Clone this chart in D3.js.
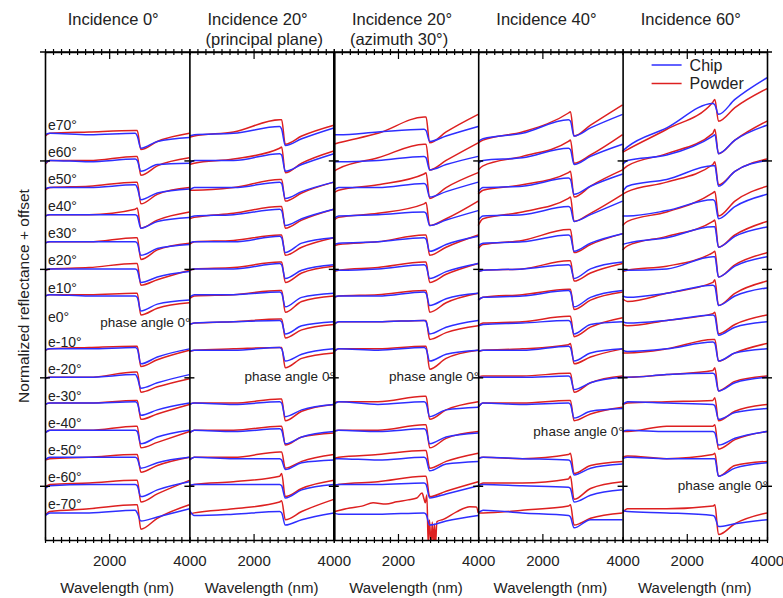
<!DOCTYPE html>
<html>
<head>
<meta charset="utf-8">
<script src="https://cdn.jsdelivr.net/npm/d3@7"></script>
<style>
  body { margin: 0; background: #fff; }
  svg { font-family: "Liberation Sans", Arial, sans-serif; }
</style>
</head>
<body>
<div id="main"></div>
<script>
const wavelengths = [400, 520, 1500, 2650, 2700, 2790, 3200, 4000];

const emissionLabels = ["e70°", "e60°", "e50°", "e40°", "e30°", "e20°", "e10°", "e0°",
                        "e-10°", "e-20°", "e-30°", "e-40°", "e-50°", "e-60°", "e-70°"];
const rowOffsets = [150, 140, 130, 120, 110, 100, 90, 80, 70, 60, 50, 40, 30, 20, 10];

const panelTitles = [
  ["Incidence 0°"],
  ["Incidence 20°", "(principal plane)"],
  ["Incidence 20°", "(azimuth 30°)"],
  ["Incidence 40°"],
  ["Incidence 60°"]
];
// row (index into emissionLabels) that holds the "phase angle 0°" note instead of a spectrum
const phaseZeroRows = [7, 9, 9, 11, 13];

const xTickLabels = [2000, 4000];
const xMajorTicks = [2000];
const yTickValues = [20, 60, 100, 140];

// relative reflectance per row, e70 ... e-70 (null = no spectrum)
const chipInc0 = [
  [-0.5, 0, -0.5, 0, -1, -5.5, -3, -1.5],
  [-1, 0, -0.5, 0.5, 0, -4, -1.5, -1],
  [-0.5, 0, 0, 1, 0, -4.5, -2, -0.5],
  [-0.5, 0, 0, 0, -0.5, -5, -2.5, -1],
  [-0.5, 0, 0, 0, -0.5, -5, -2.5, -1],
  [-0.5, 0, 0, 0, -0.5, -5, -3, -1],
  [0, 0.5, 0, 0, -0.5, -5.5, -3, -1.5],
  null,
  [0, 0.5, 0.5, 1, 0.5, -5, -2.5, 0.5],
  [-0.5, 0, 0, 1, 0, -4, -2, 1],
  [0, 0.5, 0.5, 1, 0.5, -4, -2, 0.5],
  [-0.5, 0.5, 0.5, 0.5, 0, -4.5, -2, 0.5],
  [-0.5, 0.5, 0.5, 0.5, 0, -3.5, -1.5, 0.5],
  [-1, 0, 0.5, 0.5, 0, -4, -1.5, 1.5],
  [-1, 0, 0, 1, 0, -3, -1.5, 1.5]
];
const powderInc0 = [
  [-1, 0, 0.5, 1, 1, -6, -3, 0],
  [-1.5, 0, 0, 1.5, 1.5, -5.5, -2, 1],
  [-1, 0, 0.5, 2, 2, -6, -2.5, 0],
  [-0.5, 0, 0, 2, 2.5, -5, -2, 1],
  [-0.5, 0, 0, 1.5, 1.5, -6.5, -3, -0.5],
  [-0.5, 0, 0.5, 2, 2, -6, -4, -0.5],
  [0, 0.5, 0.5, 1, 1, -7, -4.5, -2.5],
  null,
  [0, 0.5, 1, 1.5, 1.5, -6, -3.5, 0],
  [-0.5, 0, 0, 2, 2, -5.5, -3.5, -0.5],
  [0, 0.5, 0.5, 1.5, 1.5, -5.5, -3.5, 0],
  [-0.5, 0.5, 0.5, 2, 2, -6, -4, 0],
  [-0.5, 0, 0.5, 1.5, 1.5, -5, -2.5, 0.5],
  [-0.5, 0.5, 1, 2, 2, -6, -3, 2],
  [-1, 0.5, 1.5, 3, 3, -6, -2, 3]
];

const chipInc20pp = [
  [-1, -0.5, 0, 2.5, 1.5, -4.5, -2, 2],
  [-1, 0, 0, 2.5, 2, -4, -1.5, 2.5],
  [-1, 0, 0, 2, 1.5, -4, -1.5, 2],
  [-1, -0.5, 0, 2, 1.5, -4, -1.5, 2],
  [-0.5, 0, 0, 2, 1.5, -4, -0.5, 1.5],
  [-0.5, 0, 0, 2, 1.5, -3.5, -0.5, 1.5],
  [-0.5, 0.5, 0.5, 1.5, 1, -4, -0.5, 1],
  [-0.5, 0, 0.5, 1, 0.5, -4, -1, 0.5],
  [-0.5, 0, 0, 1, 0.5, -4, -1.5, 0.5],
  null,
  [0, 0.5, 0, 1, 0.5, -4.5, -2, 0],
  [-0.5, 0.5, 0, 1, 0.5, -4.5, -2, 0],
  [-0.5, 0.5, 0, 0, -0.5, -4, -1.5, -0.5],
  [0, 0.5, 0.5, 0.5, 0, -4.5, -1.5, 0.5],
  [1, -1, -0.5, 0.5, 0, -4.5, -2.5, 0]
];
const powderInc20pp = [
  [-1.5, -1, 0.5, 5, 5, -4, -1, 3],
  [-1.5, -1, 0.5, 4.5, 5, -4.5, -1, 3.5],
  [-1, -1, 0, 3, 3, -5, -2, 2],
  [-1.5, -1, 0.5, 3, 3, -5, -2, 2],
  [-1, 0, 0.5, 2.5, 2.5, -5, -2, 1.5],
  [-0.5, 0, 0.5, 2.5, 2.5, -5, -1.5, 1],
  [-1, 0, 0.5, 2, 2, -6, -2, 0],
  [-0.5, 0, 0.5, 1.5, 1.5, -5.5, -2.5, -0.5],
  [-0.5, 0, 0.5, 1, 1, -6.5, -3, -1],
  null,
  [0, 0.5, 0.5, 2, 2, -6, -2.5, 0],
  [-0.5, 0.5, 0.5, 2, 2, -5, -2, -0.5],
  [-0.5, 0.5, 0.5, 2.5, 2.5, -3.5, -1, 1.5],
  [0, 0.5, 1.5, 3.5, 4.5, -4, -1, 2],
  [-0.5, 0, 1.5, 4, 4.5, -2.5, 0.5, 5]
];

const chipInc20az = [
  [-0.5, -0.5, 0.5, 1.5, 1, -3, -1, 2.5],
  [-0.5, -0.5, 0, 1.5, 1, -3.5, -1.5, 1.5],
  [-1, 0, 0, 1.5, 1, -3.5, -1.5, 2],
  [-1.5, -0.5, 0, 1, 0.5, -4, -2, 1.5],
  [-1, -0.5, 0, 1.5, 1, -3.5, -1, 2],
  [-0.5, -0.5, 0, 1.5, 1, -3.5, -1, 2],
  [-0.5, 0, 0, 1.5, 1, -3.5, -1, 1],
  [-0.5, 0.5, 0.5, 1, 0.5, -4, -1.5, 1],
  [-0.5, 0.5, 0, 1, 0.5, -4, -1.5, 0],
  null,
  [0, 1, 0, 1, 0.5, -4.5, -2, -1],
  [0, 0.5, 0, 1, 0.5, -4.5, -2, -0.5],
  [0, 0, -0.5, 0.5, 0, -4.5, -2, -1],
  [0, 0.5, 0.5, 1, 0.5, -4.5, -3, 0],
  [0, -0.5, -0.5, 0, -0.5, -4.5, -3, -1]
];
const powderInc20az = [
  [-4, -3.5, 0, 6, 6, -3.5, 0.5, 7],
  [-4, -3, 1, 6, 6, -3.5, 0, 6.5],
  [-2, -1, 1, 5, 5.5, -4, 0, 5.5],
  [-2, -1, 0.5, 4, 4.5, -4, -1.5, 5],
  [-1.5, -1, 0, 2.5, 2.5, -5, -2, 2.5],
  [-1, -0.5, 0.5, 2.5, 2.5, -5, -2, 2],
  [-0.5, 0, 0.5, 2, 2, -6, -2.5, 1],
  [-0.5, 0.5, 0.5, 1, 1, -6, -3.5, -1],
  [-0.5, 0.5, 0.5, 1.5, 1.5, -7, -3, 0],
  null,
  [0.5, 1, 1, 3, 3, -5.5, -2, 1],
  [0, 0.5, 0.5, 2.5, 2.5, -6, -2.5, 0],
  [0, 0.5, 1.5, 3, 3, -3.5, -1, 2],
  [0, 0.5, 1.5, 3.5, 3.5, -4, -2, 1.5],
  null // noisy, read on its own grid below
];
// e-70 powder at incidence 20° (azimuth 30°): noisy band near 2.8 µm
const noisyWavelengths = [400, 800, 1100, 1380, 1700, 1970, 2250, 2470, 2600, 2650, 2680, 2720, 2755,
                          2785, 2825, 2855, 2885, 2910, 2935, 2970, 3130, 3460, 3790, 3955, 4000];
const noisyPowder = [0.4, 1.8, 2.5, 3.7, 3.3, 4.1, 4.8, 5.5, 7.3, 5.1, 3.7, 6.6, -12,
                     -2.6, -12, -3.4, -12, -4.1, -12, -3.2, -2.4, 0.4, 2.3, 2.2, 0];

const chipInc40 = [
  [-3, -2, 0, 5, 4.5, -1, 2, 7],
  [-1, 0, 1, 4.5, 4, -1.5, 1.5, 6],
  [-1.5, 0, 0.5, 3.5, 3, -2.5, 0.5, 5],
  [-2, -0.5, 0, 3, 2.5, -2.5, 0, 5],
  [-1.5, -0.5, 0, 2.5, 2, -3.5, -0.5, 3],
  [-1, -0.5, 0, 1.5, 1, -3.5, 0, 2.5],
  [-1.5, -0.5, 0, 2, 1.5, -4, -0.5, 2],
  [-1, -0.5, 0, 1, 0.5, -4, -0.5, 0.5],
  [-0.5, 0, 0, 1.5, 1, -4, -1, 0.5],
  [0, 0, 0, 0.5, 0, -4.5, -2, 0],
  [-1, 0.5, 0, 0.5, 0, -5, -2.5, -1.5],
  null,
  [0, 0.5, 0, -0.5, -1, -6, -3.5, -2],
  [0, 0.5, 0, -0.5, -1, -6, -3.5, -1.5],
  [0, 1, 0, -1, -1.5, -5.5, -2.5, -2.5]
];
const powderInc40 = [
  [-3.5, -2.5, 0.5, 7.5, 8, -1, 3, 10.5],
  [-3.5, -2, 1.5, 7, 7.5, -1, 2, 9.5],
  [-2.5, -1, 1, 5.5, 6, -3.5, 0.5, 6.5],
  [-4, -1.5, 1, 6, 6.5, -2.5, 0.5, 7.5],
  [-2.5, -1, 0.5, 4.5, 4.5, -4, -1, 3],
  [-1, -0.5, 0, 3, 3, -4.5, -1.5, 2],
  [-1.5, -0.5, 0.5, 2.5, 2.5, -5, -1.5, 1.5],
  [-1, 0, 0.5, 2.5, 2.5, -5, -1.5, 2],
  [-0.5, 0, 0.5, 2, 2.5, -5, -2.5, 0.5],
  [0, 0.5, 0.5, 1.5, 1.5, -5.5, -2, 0.5],
  [-1, 0.5, 0.5, 1.5, 1.5, -6, -3.5, -1],
  null,
  [0, 0.5, 0, 1.5, 2, -5.5, -2.5, -1],
  [0, 1, 1, 2.5, 3.5, -5, -1, 1.5],
  [0, 0, 1, 2.5, 3, -4.5, -2, 0]
];

const chipInc60 = [
  [-6.5, -5, 2, 11, 10.5, 7, 12.5, 20.5],
  [-1.5, 0, 2, 9, 9.5, 2.5, 7.5, 13],
  [-1.5, 0.5, 3, 8, 8, 0.5, 6, 10],
  [-0.5, -0.5, 1.5, 5.5, 5, -1.5, 3, 7.5],
  [-1, -0.5, 1.5, 5.5, 5.5, -2, 2, 5.5],
  [-0.5, -0.5, 0, 4.5, 4.5, -3, 1, 4.5],
  [0, -0.5, 1, 4, 3.5, -3.5, 0, 3],
  [0.5, 0, 1, 3, 2.5, -4.5, -1.5, 0.5],
  [0, -0.5, 0.5, 3, 2.5, -4, -1, 0.5],
  [0, 0, 1, 1.5, 1, -5, -2, 0],
  [0, 1, 0.5, 0, -0.5, -5.5, -3, -1.5],
  [0, 0.5, 0, 0, -0.5, -5, -2.5, 0],
  [0, 0.5, 0, 0, 0, -6.5, -3.5, -1.5],
  null,
  [1, 0.5, 0, -1, -1.5, -5, -4, -2.5]
];
const powderInc60 = [
  [-7, -6, 1.5, 11.5, 12.5, 4.5, 9.5, 16.5],
  [-3.5, -2, 2.5, 10, 11.5, 2.5, 7.5, 14.5],
  [-2.5, -1.5, 2, 8.5, 9.5, 1, 6, 10.5],
  [-4, -2.5, 1, 8, 8.5, -0.5, 5, 10.5],
  [-3, -1.5, 2, 7.5, 8, -2, 2.5, 7.5],
  [-1, -0.5, 1, 6, 6.5, -3, 1.5, 6],
  [-1, -2, 1, 5, 6, -3.5, 1, 5.5],
  [-0.5, -1, 1, 3.5, 4, -4, -0.5, 3],
  [-1, -1, 0.5, 4, 4, -4, -1, 2.5],
  [0, 0, 1, 2.5, 3.5, -5, -1.5, 0.5],
  [0, 0.5, 1, 1.5, 2.5, -6, -2.5, 0],
  [0, 0, 2, 2, 2.5, -6.5, -3, 0],
  [0.5, 1, 0, 1.5, 2, -6.5, -2.5, -1],
  null,
  [0, 1.5, 1.5, 2.5, 3, -8, -4, 0]
];

const chipSeries = [chipInc0, chipInc20pp, chipInc20az, chipInc40, chipInc60];
const powderSeries = [powderInc0, powderInc20pp, powderInc20az, powderInc40, powderInc60];

const chipColor = "#2e2eff";
const powderColor = "#dd2020";

const width = 783;
const height = 598;
const margin = { top: 52, right: 16, bottom: 58, left: 45 };
const innerWidth = width - margin.left - margin.right;
const innerHeight = height - margin.top - margin.bottom;
const panelWidth = innerWidth / panelTitles.length;

const panels = panelTitles.map((title, i) => ({
  title: title,
  chip: chipSeries[i],
  powder: powderSeries[i],
  phaseRow: phaseZeroRows[i]
}));

const svg = d3.select("#main").append("svg")
    .attr("width", width)
    .attr("height", height);

svg.append("defs").append("clipPath")
    .attr("id", "plot-clip")
  .append("rect")
    .attr("width", innerWidth)
    .attr("height", innerHeight);

const g = svg.append("g")
    .attr("transform", `translate(${margin.left},${margin.top})`);

const y = d3.scaleLinear().domain([0, 180]).range([innerHeight, 0]);

// top frame line runs a little past the outer panels
g.append("line")
    .attr("x1", -5).attr("x2", innerWidth + 5)
    .attr("y1", 0).attr("y2", 0)
    .attr("stroke", "#000").attr("stroke-width", 1.6);

panels.forEach((panel, i) => {
  const x = d3.scaleLinear().domain([400, 4000]).range([i * panelWidth, (i + 1) * panelWidth]);
  const cx = (i + 0.5) * panelWidth;

  const line = d3.line()
      .x(d => x(d[0]))
      .y(d => y(d[1]))
      .curve(d3.curveMonotoneX);

  const curves = g.append("g").attr("clip-path", "url(#plot-clip)");

  const drawSeries = (rows, color, key) => {
    rows.forEach((vals, r) => {
      let pts = null;
      if (vals) {
        pts = wavelengths.map((w, k) => [w, rowOffsets[r] + vals[k]]);
      } else if (key === "powder" && i === 2 && r === 14) {
        pts = noisyWavelengths.map((w, k) => [w, rowOffsets[r] + noisyPowder[k]]);
      }
      if (!pts) return;
      curves.append("path")
          .attr("d", line(pts))
          .attr("fill", "none")
          .attr("stroke", color)
          .attr("stroke-width", 1.5)
          .attr("stroke-linejoin", "round");
    });
  };
  drawSeries(panel.powder, powderColor, "powder");
  drawSeries(panel.chip, chipColor, "chip");

  // ticks crossing the top and bottom lines
  const tickVals = d3.range(400, 4001, 200);
  const top = g.append("g")
      .call(d3.axisTop(x).tickValues(tickVals).tickSizeOuter(0));
  top.selectAll(".tick text").remove();
  top.select(".domain").attr("stroke-width", 1.6);
  top.selectAll(".tick line")
      .attr("y1", d => xMajorTicks.includes(d) ? 7 : 3)
      .attr("y2", -3)
      .attr("stroke-width", 1.2);

  const bottom = g.append("g")
      .attr("transform", `translate(0,${innerHeight})`)
      .call(d3.axisBottom(x).tickValues(tickVals).tickSizeOuter(0));
  bottom.selectAll(".tick text").remove();
  bottom.select(".domain").attr("stroke-width", 1.6);
  bottom.selectAll(".tick line")
      .attr("y1", d => xMajorTicks.includes(d) ? -6 : -3)
      .attr("y2", 3)
      .attr("stroke-width", 1.2);

  const labels = g.append("g")
      .attr("transform", `translate(0,${innerHeight})`)
      .call(d3.axisBottom(x).tickValues(xTickLabels).tickFormat(d3.format("d")).tickSize(0));
  labels.select(".domain").remove();
  labels.selectAll("text")
      .attr("y", 26).attr("dy", 0)
      .attr("font-size", 15)
      .attr("font-family", "Liberation Sans, Arial, sans-serif")
      .attr("fill", "#222");

  g.append("text")
      .attr("x", cx)
      .attr("y", innerHeight + 53)
      .attr("text-anchor", "middle")
      .attr("font-size", 15)
      .attr("fill", "#222")
      .text("Wavelength (nm)");

  // titles
  const t1 = svg.append("text")
      .attr("x", margin.left + cx - 4)
      .attr("y", 25)
      .attr("text-anchor", "middle")
      .attr("font-size", 16.5)
      .attr("fill", "#222")
      .text(panel.title[0]);
  if (panel.title[1]) {
    const w1 = t1.node().getComputedTextLength();
    svg.append("text")
        .attr("x", margin.left + cx - 4 - w1 / 2 - 2)
        .attr("y", 45)
        .attr("font-size", 16.5)
        .attr("fill", "#222")
        .text(panel.title[1]);
  }

  g.append("text")
      .attr("x", (i + 1) * panelWidth + 1)
      .attr("y", y(rowOffsets[panel.phaseRow]) + 4)
      .attr("text-anchor", "end")
      .attr("font-size", 13.5)
      .attr("fill", "#222")
      .text("phase angle 0°");
});

// vertical panel dividers with the offset ticks
d3.range(panels.length + 1).forEach(k => {
  const yAxis = g.append("g")
      .attr("transform", `translate(${k * panelWidth},0)`)
      .call(d3.axisLeft(y).tickValues(yTickValues).tickSizeOuter(0));
  yAxis.selectAll(".tick text").remove();
  yAxis.select(".domain").attr("stroke-width", k === 2 ? 2.6 : 1.6);
  yAxis.selectAll(".tick line")
      .attr("x1", -5).attr("x2", 5)
      .attr("stroke-width", 1.4);
});

// emission angle labels in the first panel
g.append("g")
  .selectAll("text")
  .data(emissionLabels)
  .enter()
  .append("text")
    .attr("x", 3)
    .attr("y", (d, r) => y(rowOffsets[r]) - (r === phaseZeroRows[0] ? 1 : 3.5))
    .attr("font-size", 14)
    .attr("fill", "#222")
    .text(d => d);

svg.append("text")
    .attr("transform", "translate(29,296) rotate(-90)")
    .attr("text-anchor", "middle")
    .attr("font-size", 15.5)
    .attr("fill", "#222")
    .text("Normalized reflectance + offset");

// legend
const legend = g.append("g")
    .attr("transform", `translate(${4 * panelWidth + 29},13)`);
[["Chip", chipColor], ["Powder", powderColor]].forEach(([name, color], k) => {
  legend.append("line")
      .attr("x1", 0).attr("x2", 30)
      .attr("y1", k * 18.5).attr("y2", k * 18.5)
      .attr("stroke", color)
      .attr("stroke-width", 1.5);
  legend.append("text")
      .attr("x", 38)
      .attr("y", k * 18.5 + 5.5)
      .attr("font-size", 16)
      .attr("fill", "#222")
      .text(name);
});
</script>
</body>
</html>
